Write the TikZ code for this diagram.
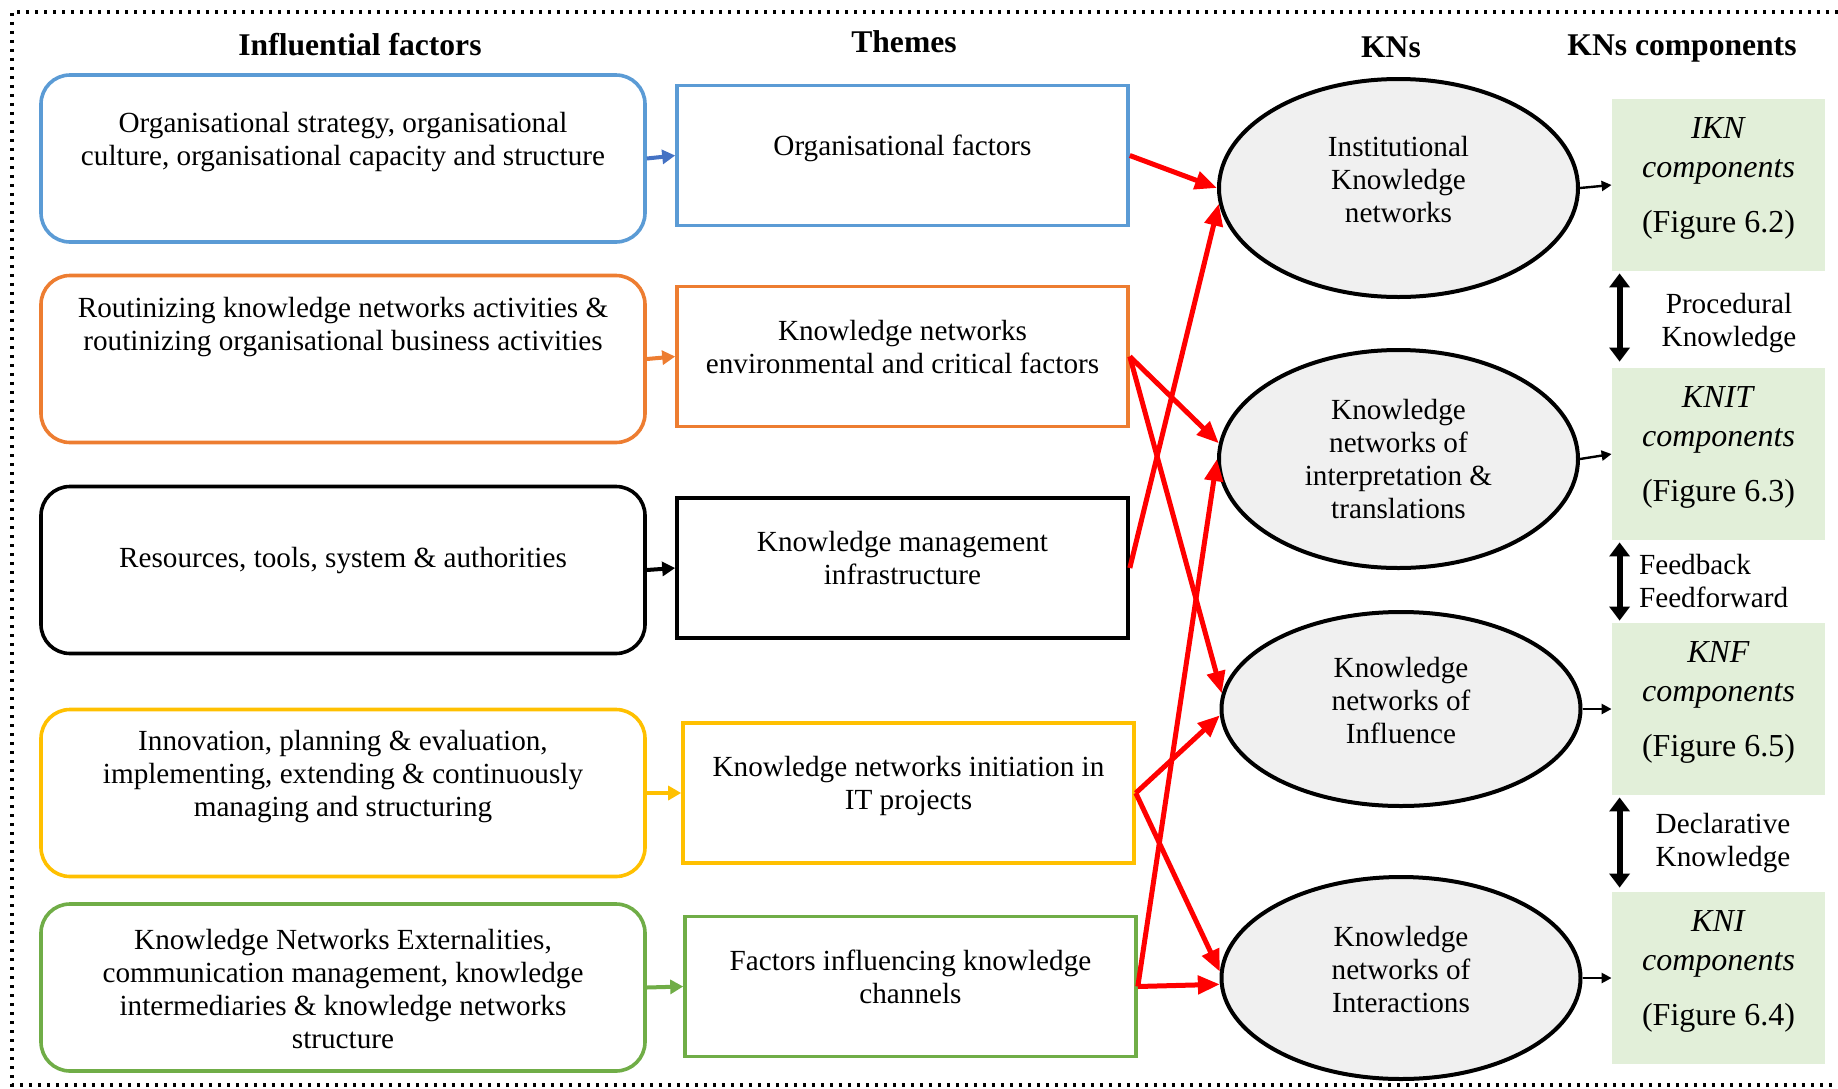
\documentclass[tikz,border=0pt]{standalone}
\usepackage{fontspec}
\setmainfont{Liberation Serif}
\usetikzlibrary{arrows.meta,shapes.geometric}

\definecolor{fblue}{HTML}{5B9BD5}
\definecolor{fbluetip}{HTML}{4472C4}
\definecolor{forange}{HTML}{ED7D31}
\definecolor{fyellow}{HTML}{FFC000}
\definecolor{fgreen}{HTML}{70AD47}
\definecolor{compfill}{HTML}{E2EFD9}
\definecolor{knfill}{HTML}{F0F0F0}

\newcommand{\bodyfont}{\fontsize{14.6}{16.5}\selectfont}
\newcommand{\compfont}{\fontsize{16}{19.5}\selectfont}
\newcommand{\headfont}{\fontsize{15.8}{18}\selectfont\bfseries}

\begin{document}
\begin{tikzpicture}[x=0.5pt,y=-0.5pt,
	factor/.style={draw,line width=1.8pt,rounded corners=14.5pt,minimum width=302pt,minimum height=83.5pt,inner sep=0pt},
	theme/.style={draw,line width=1.8pt,minimum width=225.5pt,minimum height=70pt,align=center,font=\bodyfont,text depth=10pt},
	kn/.style={ellipse,draw,line width=2pt,fill=knfill,minimum width=179.5pt,align=center,font=\bodyfont,inner sep=0pt},
	comp/.style={fill=compfill,minimum width=106.5pt,minimum height=86pt,align=center,font=\compfont,text depth=9.5pt},
	head/.style={font=\headfont},
	body/.style={align=center,font=\bodyfont},
	link/.style={red,line width=2.5pt,-{Triangle[length=11pt,width=9pt]}},
	feed/.style={line width=2pt,-{Triangle[length=6.5pt,width=7pt]}},
	knout/.style={line width=1.2pt,-{Triangle[length=5pt,width=5pt]}},
	dbl/.style={line width=3pt,{Triangle[length=7pt,width=10pt]}-{Triangle[length=7pt,width=10pt]}},
	frame/.style={line width=1.6pt,dash pattern=on 1.6pt off 2.9pt}]
	
	\useasboundingbox (0,0) rectangle (1838,1088);
	\draw[frame] (1838,12) -- (12,12) -- (12,1085) -- (1838,1085);
	
	% column heads
	\node[head] (hf) at (360,45) {Influential factors};
	\node[head] (ht) at (904,42) {Themes};
	\node[head] (hk) at (1391,47) {KNs};
	\node[head] (hc) at (1682,49) {KNs components};
	
	% influential factors
	\node[factor,fblue] (f1) at (343,158.5) {};
	\node[factor,forange] (f2) at (343,359) {};
	\node[factor] (f3) at (343,570) {};
	\node[factor,fyellow] (f4) at (343,793) {};
	\node[factor,fgreen] (f5) at (343,987.5) {};
	
	\node[body] (f1t) at (343,142) {Organisational strategy, organisational\\culture, organisational capacity and structure};
	\node[body] (f2t) at (343,327) {Routinizing knowledge networks activities \&\\routinizing organisational business activities};
	\node[body] (f3t) at (343,561) {Resources, tools, system \& authorities};
	\node[body] (f4t) at (343,777) {Innovation, planning \& evaluation,\\implementing, extending \& continuously\\managing and structuring};
	\node[body] (f5t) at (343,989) {Knowledge Networks Externalities,\\communication management, knowledge\\intermediaries \& knowledge networks\\structure};
	
	% themes
	\node[theme,fblue,text=black] (t1) at (902.5,155.5) {Organisational factors};
	\node[theme,forange,text=black] (t2) at (902.5,356.5) {Knowledge networks\\environmental and critical factors};
	\node[theme] (t3) at (902.5,568) {Knowledge management\\infrastructure};
	\node[theme,fyellow,text=black] (t4) at (908.5,793) {Knowledge networks initiation in\\IT projects};
	\node[theme,fgreen,text=black] (t5) at (910.5,986.5) {Factors influencing knowledge\\channels};
	
	\draw[feed,fbluetip] (f1.east) -- (t1.west);
	\draw[feed,forange] (f2.east) -- (t2.west);
	\draw[feed] (f3.east) -- (t3.west);
	\draw[feed,fyellow] (f4.east) -- (t4.west);
	\draw[feed,fgreen] (f5.east) -- (t5.west);
	
	% knowledge networks
	\node[kn,minimum height=109pt,text depth=9pt] (k1) at (1398.5,188) {Institutional\\Knowledge\\networks};
	\node[kn,minimum height=109pt] (k2) at (1398.5,459) {Knowledge\\networks of\\interpretation \&\\translations};
	\node[kn,minimum height=97pt,text depth=9pt] (k3) at (1401,709) {Knowledge\\networks of\\Influence};
	\node[kn,minimum height=101pt,text depth=9pt] (k4) at (1401,978) {Knowledge\\networks of\\Interactions};
	
	\draw[link] (t1.east) -- (k1.west);
	\draw[link] (t3.east) -- (k1.185);
	\draw[link] (t2.east) -- (k2.175);
	\draw[link] (t5.east) -- (k2.west);
	\draw[link] (t2.east) -- (k3.175);
	\draw[link] (t4.east) -- (k3.182);
	\draw[link] (t4.east) -- (k4.178);
	\draw[link] (t5.east) -- (k4.182);
	
	% components
	\node[comp] (c1) at (1718.5,185) {\textit{IKN}\\\textit{components}\\[8pt](Figure 6.2)};
	\node[comp] (c2) at (1718.5,454) {\textit{KNIT}\\\textit{components}\\[8pt](Figure 6.3)};
	\node[comp] (c3) at (1718.5,709) {\textit{KNF}\\\textit{components}\\[8pt](Figure 6.5)};
	\node[comp] (c4) at (1718.5,978) {\textit{KNI}\\\textit{components}\\[8pt](Figure 6.4)};
	
	\draw[knout] (k1.east) -- (c1.west);
	\draw[knout] (k2.east) -- (c2.west);
	\draw[knout] (k3.east) -- (c3.west);
	\draw[knout] (k4.east) -- (c4.west);
	
	\draw[dbl] ([xshift=4pt,yshift=-1pt]c1.south west) -- ([xshift=4pt,yshift=3pt]c2.north west);
	\draw[dbl] ([xshift=4pt,yshift=-1pt]c2.south west) -- ([xshift=4pt,yshift=1pt]c3.north west);
	\draw[dbl] ([xshift=4pt,yshift=-1pt]c3.south west) -- ([xshift=4pt,yshift=2pt]c4.north west);
	
	\node[body] (lp) at (1729,323) {Procedural\\Knowledge};
	\node[body,align=left,anchor=west] (lf) at (1632,581) {Feedback\\Feedforward};
	\node[body] (ld) at (1723,843) {Declarative\\Knowledge};
	
\end{tikzpicture}
\end{document}
